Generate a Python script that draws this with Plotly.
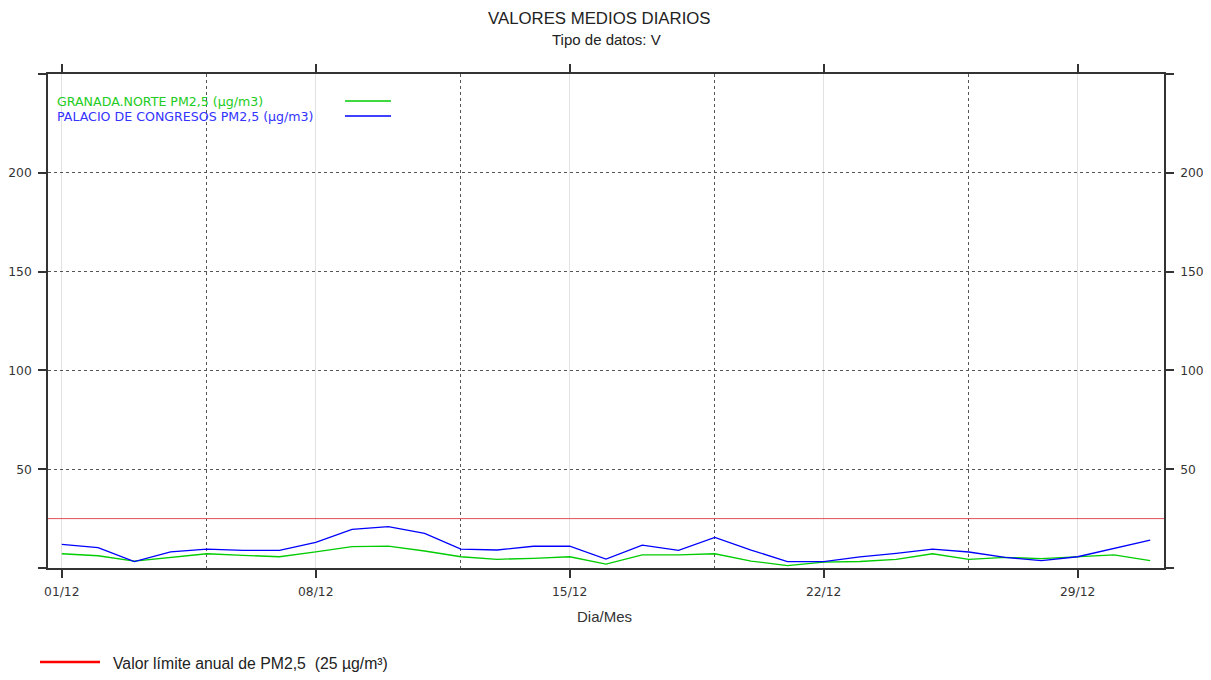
import pandas as pd
import plotly.graph_objects as go

# ---------------- data ----------------
dias = pd.date_range("2023-12-01", "2023-12-31", freq="D")
granada_norte = [7.2, 6.2, 3.5, 5.4, 7.2, 6.4, 5.7, 8.2, 10.8, 11.1, 8.6, 5.7, 4.4, 4.9, 5.7,
                 2.0, 6.6, 6.6, 7.2, 3.5, 1.2, 3.0, 3.3, 4.4, 7.2, 4.4, 5.4, 4.7, 5.7, 6.6, 3.7]
palacio_congresos = [12.0, 10.3, 3.2, 8.2, 9.6, 8.9, 8.9, 13.0, 19.5, 20.9, 17.5, 9.6, 9.1, 11.0, 11.0,
                     4.5, 11.6, 8.9, 15.5, 9.1, 3.2, 3.2, 5.6, 7.4, 9.6, 8.1, 5.4, 3.7, 5.7, 9.9, 14.1]
valor_limite = 25
serie_nombres = ["GRANADA.NORTE PM2,5 (µg/m3)", "PALACIO DE CONGRESOS PM2,5 (µg/m3)"]
y_ticks = [0, 50, 100, 150, 200, 250]
y_ticktext = ["", "50", "100", "150", "200", ""]
x_major = pd.to_datetime(["2023-12-01", "2023-12-08", "2023-12-15", "2023-12-22", "2023-12-29"])
x_minor = pd.to_datetime(["2023-12-05", "2023-12-12", "2023-12-19", "2023-12-26"])
x_ticktext = ["01/12", "08/12", "15/12", "22/12", "29/12"]

VERDE = "#00cc00"
AZUL = "#0000ff"
ROJO_LIM = "#e0505c"
FONT = "DejaVu Sans"
TFONT = "Liberation Sans"

# page has an 8px body margin -> figure is 8px smaller, margins shifted by 8px
W, H = 1203, 672
ML, MR, MT, MB = 40, 47, 66, 112
PW = W - ML - MR   # 1116
PH = H - MT - MB   # 494

x_left = dias[0] - pd.Timedelta(days=0.38)
x_right = dias[-1] + pd.Timedelta(days=0.38)

fig = go.Figure()
fig.add_trace(go.Scatter(x=[x_left, x_right], y=[valor_limite, valor_limite], mode="lines",
                         line=dict(color=ROJO_LIM, width=1), showlegend=False, hoverinfo="skip"))
fig.add_trace(go.Scatter(x=dias, y=granada_norte, mode="lines", name=serie_nombres[0],
                         line=dict(color=VERDE, width=1.3), showlegend=False))
fig.add_trace(go.Scatter(x=dias, y=palacio_congresos, mode="lines", name=serie_nombres[1],
                         line=dict(color=AZUL, width=1.3), showlegend=False))
# invisible trace to activate right axis
fig.add_trace(go.Scatter(x=[dias[0]], y=[None], yaxis="y2", mode="lines", showlegend=False,
                         hoverinfo="skip"))

axis_line = dict(showline=True, linecolor="#333333", linewidth=1.5, automargin=False)
tick_font = dict(size=12.3, family=FONT, color="#333333")

fig.update_layout(
    width=W, height=H,
    margin=dict(l=ML, r=MR, t=MT, b=MB, autoexpand=False),
    paper_bgcolor="white", plot_bgcolor="white",
    font=dict(family=FONT, color="#333333", size=12),
    xaxis=dict(
        type="date", range=[x_left, x_right],
        tickmode="array", tickvals=x_major, ticktext=x_ticktext,
        ticks="outside", ticklen=8, tickwidth=1.5, tickcolor="#333333",
        mirror="ticks", showgrid=True, gridcolor="#e2e2e2", gridwidth=1,
        tickfont=tick_font, ticklabelstandoff=3,
        zeroline=False,
        minor=dict(tickmode="array", tickvals=x_minor, showgrid=True, gridcolor="#555555",
                   griddash="dot", gridwidth=1, ticks=""),
        **axis_line,
    ),
    yaxis=dict(
        range=[0, 250], tickmode="array", tickvals=y_ticks, ticktext=y_ticktext,
        ticks="outside", ticklen=8, tickwidth=1.5, tickcolor="#333333",
        showgrid=True, gridcolor="#555555", griddash="dot", gridwidth=1,
        zeroline=False, tickfont=tick_font, ticklabelstandoff=4,
        **axis_line,
    ),
    yaxis2=dict(
        range=[0, 250], overlaying="y", side="right", tickmode="array",
        tickvals=y_ticks, ticktext=y_ticktext,
        ticks="outside", ticklen=8, tickwidth=1.5, tickcolor="#333333",
        showgrid=False, zeroline=False, tickfont=tick_font, ticklabelstandoff=4,
        **axis_line,
    ),
)

# titles
fig.add_annotation(text="VALORES MEDIOS DIARIOS", xref="paper", yref="paper",
                   x=(599 - 48) / PW, y=1, yshift=56, yanchor="middle", showarrow=False,
                   font=dict(family=TFONT, size=16.8, color="#222222"))
fig.add_annotation(text="Tipo de datos: V", xref="paper", yref="paper",
                   x=(606 - 48) / PW, y=1, yshift=35, yanchor="middle", showarrow=False,
                   font=dict(family=TFONT, size=15, color="#222222"))
fig.add_annotation(text="Dia/Mes", xref="paper", yref="paper",
                   x=(604 - 48) / PW, y=0, yshift=-48, yanchor="middle", showarrow=False,
                   font=dict(family=TFONT, size=15, color="#333333"))

# inner legend (text on left, line sample on right)
leg_colors = [VERDE, AZUL]
leg_text_colors = ["#22cc22", "#3333ff"]
for i, (name, col, tcol) in enumerate(zip(serie_nombres, leg_colors, leg_text_colors)):
    ypx = 101 + 15 * i
    yp = (568 - ypx) / PH
    fig.add_annotation(text=name, xref="paper", yref="paper", x=(55 - 48) / PW, y=yp,
                       xanchor="left", yanchor="middle", showarrow=False,
                       font=dict(family=FONT, size=12.6, color=tcol))
    fig.add_shape(type="line", xref="paper", yref="paper",
                  x0=(345 - 48) / PW, x1=(391 - 48) / PW, y0=yp, y1=yp,
                  line=dict(color=col, width=1.3))

# bottom legend for the limit value
fig.add_shape(type="line", xref="paper", yref="paper",
              x0=(40 - 48) / PW, x1=(100 - 48) / PW,
              y0=(568 - 662) / PH, y1=(568 - 662) / PH,
              line=dict(color="#ff0000", width=2.5))
fig.add_annotation(text="Valor límite anual de PM2,5  (25 µg/m³)", xref="paper", yref="paper",
                   x=(111 - 48) / PW, y=(568 - 663) / PH, xanchor="left", yanchor="middle",
                   showarrow=False,
                   font=dict(family=TFONT, size=15.8, color="#222222"))

fig.write_html("out.html")
